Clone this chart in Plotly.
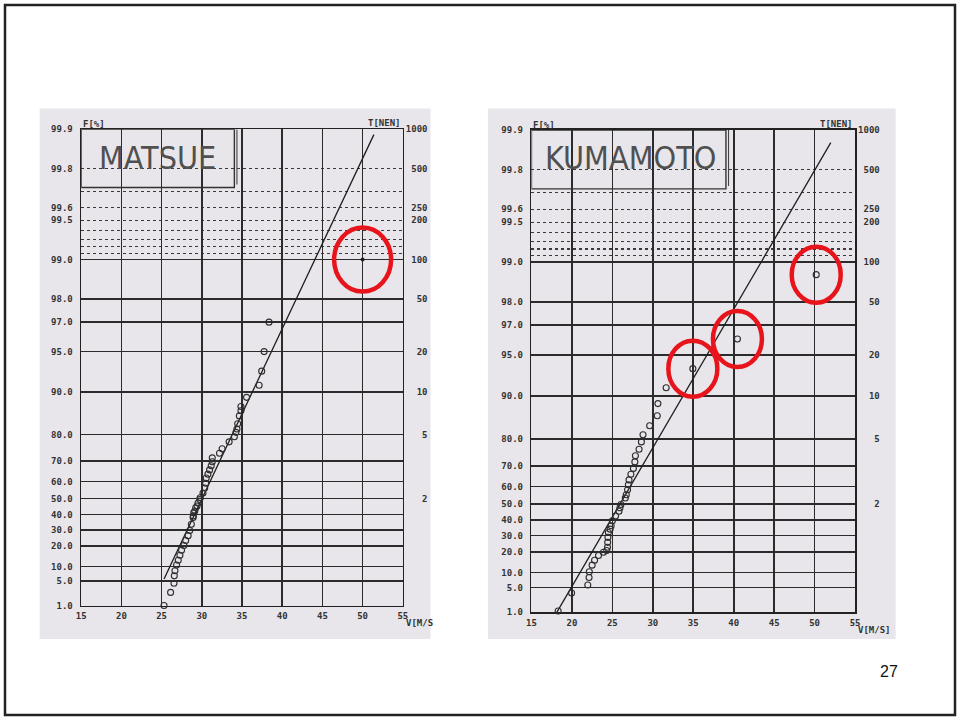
import numpy as np
import plotly.graph_objects as go

# ---------------- data ----------------
v_ticks = [15, 20, 25, 30, 35, 40, 45, 50, 55]
f_ticks = [99.9, 99.8, 99.6, 99.5, 99.0, 98.0, 97.0, 95.0, 90.0, 80.0, 70.0,
           60.0, 50.0, 40.0, 30.0, 20.0, 10.0, 5.0, 1.0]
f_tick_text = ["99.9", "99.8", "99.6", "99.5", "99.0", "98.0", "97.0", "95.0",
               "90.0", "80.0", "70.0", "60.0", "50.0", "40.0", "30.0", "20.0",
               "10.0", "5.0", "1.0"]
f_solid_grid = [99.0, 98.0, 97.0, 95.0, 90.0, 80.0, 70.0, 60.0, 50.0, 40.0,
                30.0, 20.0, 10.0, 5.0]
f_dotted_grid = [99.8, 99.7, 99.6, 99.5, 99.4, 99.3, 99.2, 99.1]
t_ticks = [1000, 500, 250, 200, 100, 50, 20, 10, 5, 2]
t_tick_text = ["1000", "500", "250", "200", "100", "50", "20", "10", "5", "2"]
v_range = [15, 55]
f_range = [1.0, 99.9]

# MATSUE annual maximum wind speeds (V m/s) vs non-exceedance probability F (%)
matsue_v = [25.3, 26.12, 26.54, 26.58, 26.66, 26.86, 27.07, 27.28, 27.48, 27.77,
            28.0, 28.3, 28.5, 28.7, 28.92, 28.95, 29.0, 29.13, 29.24, 29.41,
            29.53, 29.74, 29.8, 30.15, 30.36, 30.48, 30.55, 30.76, 30.97, 31.17,
            31.3, 31.3, 32.2, 32.53, 33.4, 34.05, 34.25, 34.37, 34.46, 34.67,
            34.87, 34.87, 35.57, 37.13, 37.45, 37.75, 38.36]
matsue_f = [1.0, 2.6, 4.5, 6.6, 8.3, 10.6, 12.7, 15.1, 17.7, 20.4,
            23.3, 26.3, 29.5, 33.6, 37.9, 39.0, 41.1, 42.2, 44.3, 45.4,
            47.3, 49.4, 50.5, 53.4, 56.3, 59.0, 61.8, 63.8, 65.9, 67.9,
            69.7, 71.4, 73.3, 75.1, 77.6, 79.3, 80.7, 81.7, 83.2, 85.2,
            86.4, 87.3, 89.1, 91.1, 93.0, 95.0, 97.0]
matsue_line_v = [25.3, 51.4]
matsue_line_f = [5.6, 99.89]
matsue_marked_v = [50.0]
matsue_marked_f = [99.0]

# KUMAMOTO
kumamoto_v = [18.3, 19.96, 21.96, 22.12, 22.15, 22.5, 22.8, 23.29, 23.9, 24.3,
              24.4, 24.42, 24.45, 24.51, 24.72, 24.85, 25.0, 25.4, 25.82, 25.94,
              26.06, 26.6, 26.72, 26.88, 26.98, 27.06, 27.29, 27.6, 27.78, 27.85,
              28.3, 28.59, 28.79, 29.61, 30.55, 30.63, 31.65, 34.95, 40.46, 50.2]
kumamoto_f = [1.1, 3.7, 5.7, 8.1, 10.3, 13.2, 15.6, 18.1, 19.9, 20.9,
              22.8, 25.7, 28.8, 31.9, 34.0, 36.2, 39.4, 42.5, 45.5, 47.6,
              49.6, 53.5, 55.4, 58.2, 60.9, 63.4, 66.2, 68.9, 71.7, 74.2,
              76.6, 79.1, 81.3, 83.8, 86.2, 88.7, 91.3, 93.7, 96.2, 98.75]
kumamoto_line_v = [18.15, 52.0]
kumamoto_line_f = [1.0, 99.875]
kumamoto_circled_idx = [37, 38, 39]

station_names = ["MATSUE", "KUMAMOTO"]
page_number = "27"


# ---------------- helpers ----------------
def gumbel(fpct):
    f = np.asarray(fpct, dtype=float) / 100.0
    return -np.log(-np.log(f))


def t_to_f(t):
    return [100.0 * (1.0 - 1.0 / x) for x in t]


W, H = 960, 720
PANEL_BG = "#e8e6ea"
GRID = "#2b2b2b"
INK = "#2e2e2e"
MONO = dict(family="DejaVu Sans Mono, monospace", size=9, color="#333333",
            weight="bold")
TITLE_FONT = dict(family="DejaVu Sans Condensed, Liberation Sans Narrow, "
                  "Liberation Sans, sans-serif", size=32, color="#505050")
NB = "\u00a0"
t_text_padded = [NB * (4 - len(s)) + s for s in t_tick_text]

yr = [float(gumbel(f_range[0])), float(gumbel(f_range[1]))]

# plot areas in pixels (x0, x1, ytop, ybottom)
areas = [(77, 402, 126, 609), (532, 859, 126.7, 615.7)]
panels = [(35, 430, 105, 643), (488, 900, 105, 643)]


def px(xp):
    return xp / W


def py(yp):
    return 1 - yp / H


fig = go.Figure()

layout = dict(
    width=W, height=H, autosize=False,
    margin=dict(l=0, r=0, t=0, b=0),
    paper_bgcolor="white", plot_bgcolor=PANEL_BG,
    showlegend=False,
    shapes=[], annotations=[],
)

datasets = [
    (matsue_v, matsue_f, matsue_line_v, matsue_line_f),
    (kumamoto_v, kumamoto_f, kumamoto_line_v, kumamoto_line_f),
]

for i, (area, pan) in enumerate(zip(areas, panels)):
    x0, x1, yt, yb = area
    xn = "x" if i == 0 else "x2"
    xk = "xaxis" if i == 0 else "xaxis2"
    ylab = 1 + 3 * i      # label axis F
    yT = 2 + 3 * i        # right T axis
    ygr = 3 + 3 * i       # grid axis
    yl_n = "y" if ylab == 1 else f"y{ylab}"
    yl_k = "yaxis" if ylab == 1 else f"yaxis{ylab}"

    layout[xk] = dict(
        domain=[px(x0), px(x1)], range=v_range, anchor=yl_n,
        tickmode="array", tickvals=v_ticks, ticktext=[str(v) for v in v_ticks],
        showgrid=True, gridcolor=GRID, gridwidth=1.6,
        showline=True, mirror=True, linecolor="#222", linewidth=1.6,
        ticks="", zeroline=False, tickfont=MONO, ticklabelstandoff=1,
        fixedrange=True,
    )
    layout[yl_k] = dict(
        domain=[py(yb), py(yt)], range=yr, anchor=xn,
        tickmode="array", tickvals=list(gumbel(f_ticks)), ticktext=f_tick_text,
        showgrid=False, showline=True, mirror=True, linecolor="#222",
        linewidth=1.6, ticks="", zeroline=False, tickfont=MONO,
        ticklabelstandoff=5, fixedrange=True,
    )
    layout[f"yaxis{yT}"] = dict(
        overlaying=yl_n, side="right", range=yr, anchor=xn,
        tickmode="array", tickvals=list(gumbel(t_to_f(t_ticks))),
        ticktext=t_text_padded, showgrid=False, showline=False, ticks="",
        zeroline=False, tickfont=MONO, ticklabelstandoff=2, fixedrange=True,
    )
    layout[f"yaxis{ygr}"] = dict(
        overlaying=yl_n, side="left", range=yr, anchor=xn,
        tickmode="array", tickvals=list(gumbel(f_solid_grid)),
        showticklabels=False, showgrid=True, gridcolor=GRID, gridwidth=1.6,
        showline=False, ticks="", zeroline=False, fixedrange=True,
        minor=dict(tickmode="array", tickvals=list(gumbel(f_dotted_grid)),
                   showgrid=True, griddash="dot", gridcolor="#3a3a3a",
                   gridwidth=1.1, ticks=""),
    )
    # dummy traces so overlay axes render
    for yy in (f"y{yT}", f"y{ygr}"):
        fig.add_trace(go.Scatter(x=[None], y=[None], xaxis=xn, yaxis=yy,
                                 hoverinfo="skip", showlegend=False))

    vv, ff, lv, lf = datasets[i]
    fig.add_trace(go.Scatter(
        x=lv, y=gumbel(lf), xaxis=xn, yaxis=yl_n, mode="lines",
        line=dict(color="#1e1e1e", width=1.3), hoverinfo="skip"))
    fig.add_trace(go.Scatter(
        x=vv, y=gumbel(ff), xaxis=xn, yaxis=yl_n, mode="markers",
        marker=dict(symbol="circle-open", size=6, color=INK,
                    line=dict(width=1.1, color=INK)),
        cliponaxis=False, hoverinfo="skip"))

    # panel background (scanned sheet)
    layout["shapes"].append(dict(
        type="rect", xref="paper", yref="paper", layer="below",
        x0=px(pan[0]), x1=px(pan[1]), y0=py(pan[3]), y1=py(pan[2]),
        fillcolor=PANEL_BG, line=dict(width=0)))

    # title box (top-left of plot)
    box_right = [34.05, 39.04][i]
    box_bottom = float(gumbel(99.72))
    layout["shapes"].append(dict(
        type="rect", xref=xn, yref=yl_n, x0=15, x1=box_right,
        y0=box_bottom, y1=yr[1], line=dict(color="#333", width=1.4)))
    layout["shapes"].append(dict(
        type="line", xref=xn, yref=yl_n, x0=box_right + 0.32,
        x1=box_right + 0.32, y0=box_bottom + 0.05, y1=yr[1],
        line=dict(color="#444", width=1.1)))
    cx = [154, 632][i]
    layout["annotations"].append(dict(
        text=station_names[i], xref="paper", yref="paper",
        x=px(cx), y=py(155), xanchor="center", yanchor="middle",
        showarrow=False, font=TITLE_FONT))

    # axis captions
    layout["annotations"].append(dict(
        text="F[%]", xref="paper", yref="paper", x=px(x0), y=py(yt - 5),
        xanchor="left", yanchor="middle", showarrow=False, font=MONO))
    layout["annotations"].append(dict(
        text="T[NEN]", xref="paper", yref="paper", x=px(x1), y=py(yt - 6),
        xanchor="right", yanchor="middle", showarrow=False, font=MONO))
    layout["annotations"].append(dict(
        text=["V[M/S", "V[M/S]"][i], xref="paper", yref="paper",
        x=px(x1 + 1), y=py(yb + 18), xanchor="left", yanchor="middle",
        showarrow=False, font=MONO))

# filled marker (MATSUE, circled)
fig.add_trace(go.Scatter(
    x=matsue_marked_v, y=gumbel(matsue_marked_f), xaxis="x", yaxis="y",
    mode="markers", marker=dict(symbol="circle", size=4, color="#1e1e1e"),
    hoverinfo="skip"))

RED = "#e8141c"
circles = [("x", "y", matsue_marked_v[0], matsue_marked_f[0], 57, 64)]
for k in kumamoto_circled_idx:
    circles.append(("x2", "y4", kumamoto_v[k], kumamoto_f[k], 49, 56))
for xn, yn, v, f, w, h in circles:
    layout["shapes"].append(dict(
        type="circle", xref=xn, yref=yn, xsizemode="pixel", ysizemode="pixel",
        xanchor=v, yanchor=float(gumbel(f)), x0=-w / 2, x1=w / 2,
        y0=-h / 2, y1=h / 2, line=dict(color=RED, width=4.5)))

# slide frame
layout["shapes"].append(dict(
    type="rect", xref="paper", yref="paper", x0=0, x1=1, y0=0, y1=1,
    line=dict(color="#222", width=2.5)))
layout["annotations"].append(dict(
    text=page_number, xref="paper", yref="paper", x=px(893), y=py(676),
    xanchor="center", yanchor="middle", showarrow=False,
    font=dict(family="Liberation Sans, Arial, sans-serif", size=16,
              color="#111")))

fig.update_layout(**layout)
fig.write_html(
    "out.html",
    config={"displayModeBar": False, "staticPlot": True},
    post_script="document.documentElement.style.margin='0px';"
                "document.documentElement.style.padding='0px';"
                "document.documentElement.style.overflow='hidden';"
                "document.body.style.margin='0px';"
                "document.body.style.padding='0px';"
                "document.body.style.overflow='hidden';",
)
